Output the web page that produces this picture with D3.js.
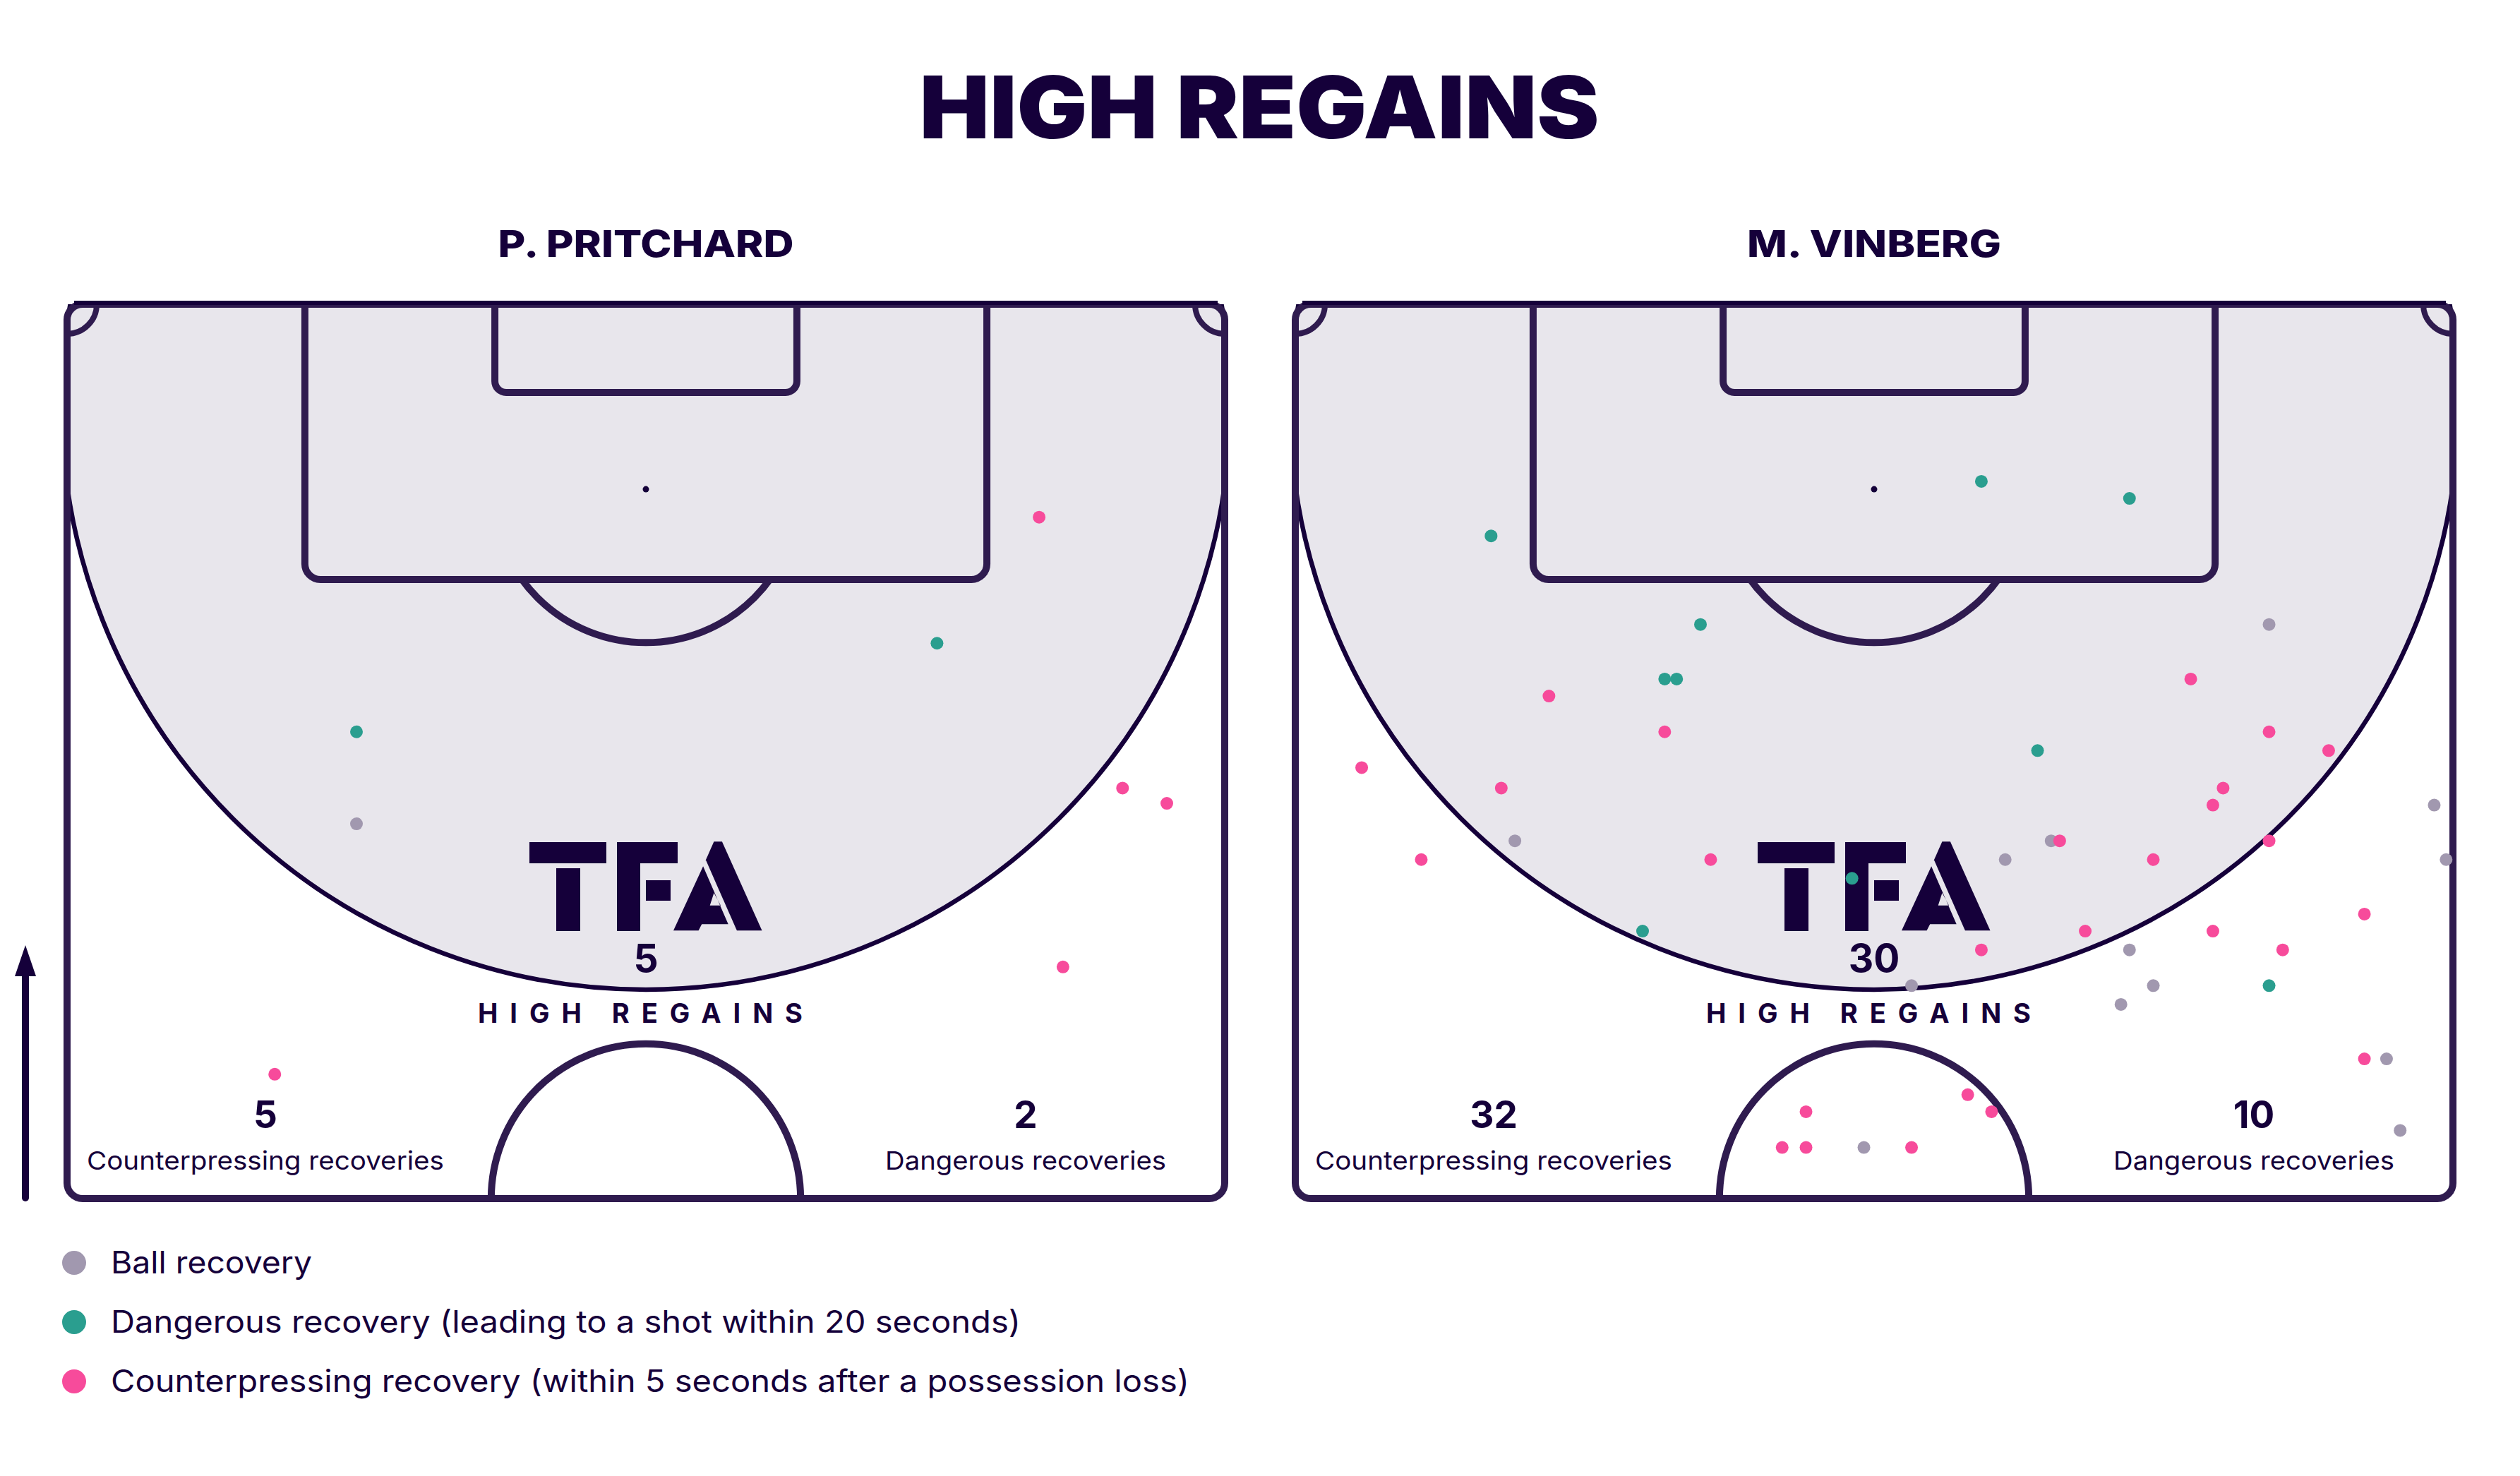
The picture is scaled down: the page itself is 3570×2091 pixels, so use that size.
<!DOCTYPE html>
<html><head><meta charset="utf-8">
<script src="https://cdn.jsdelivr.net/npm/d3@7"></script>
<style>body{margin:0;background:#fff}svg{display:block}</style>
</head><body><svg id="c"></svg>
<script>
// ---------------- DATA ----------------
const titleText = "HIGH REGAINS";
const players = ["P. PRITCHARD", "M. VINBERG"];
const highRegains = [5, 30];
const counterpressingTotals = [5, 32];
const dangerousTotals = [2, 10];
const statLabels = ["Counterpressing recoveries", "Dangerous recoveries"];
const centerLabel = "HIGH REGAINS";
const legendLabels = [
  "Ball recovery",
  "Dangerous recovery (leading to a shot within 20 seconds)",
  "Counterpressing recovery (within 5 seconds after a possession loss)"
];
// positions in metres: [across pitch from left touchline (0-68), distance from opponent goal line (0-52.5)]
const pritchardBall = [[17.0, 30.5]];
const pritchardDangerous = [[51.1, 19.9], [17.0, 25.1]];
const pritchardCounter = [[57.1, 12.5], [62.0, 28.4], [64.6, 29.3], [58.5, 38.9], [12.2, 45.2]];

const vinbergBall = [[57.2, 18.8], [12.9, 31.5], [66.9, 29.4], [67.6, 32.6], [44.4, 31.5], [41.7, 32.6],
  [49.0, 37.9], [36.2, 40.0], [50.4, 40.0], [48.5, 41.1], [64.1, 44.3], [64.9, 48.5], [33.4, 49.5]];
const vinbergDangerous = [[40.3, 10.4], [49.0, 11.4], [11.5, 13.6], [23.8, 18.8], [21.7, 22.0], [22.4, 22.0],
  [43.6, 26.2], [32.7, 33.7], [20.4, 36.8], [57.2, 40.0]];
const vinbergCounter = [[14.9, 23.0], [21.7, 25.1], [3.9, 27.2], [12.1, 28.4], [7.4, 32.6], [24.4, 32.6],
  [52.6, 22.0], [57.2, 25.1], [60.7, 26.2], [54.5, 28.4], [53.9, 29.4], [44.9, 31.5], [57.2, 31.5],
  [50.4, 32.6], [62.8, 35.8], [46.4, 36.8], [53.9, 36.8], [40.3, 37.9], [58.0, 37.9], [62.8, 44.3],
  [39.5, 46.4], [40.9, 47.4], [30.0, 47.4], [28.6, 49.5], [30.0, 49.5], [36.2, 49.5]];

const ballSets = [pritchardBall, vinbergBall];
const dangerousSets = [pritchardDangerous, vinbergDangerous];
const counterSets = [pritchardCounter, vinbergCounter];

// ---------------- STYLE / LAYOUT ----------------
const W = 3570, H = 2091;
const NAVY = "#15003a", LINE = "#2f1b4f", SHADE = "#e8e6ec";
const COLORS = { ball: "#a198af", dangerous: "#2a9e8f", counter: "#f74b9b" };
const FONT = "Inter, 'Noto Sans', sans-serif";
const PITCH_W = 68, PITCH_L = 52.5;
const pitchLeft = [95, 1835], pitchPx = 1640, pitchTop = 431, pitchBottom = 1698;

const svg = d3.select("#c").attr("width", W).attr("height", H).attr("viewBox", `0 0 ${W} ${H}`);
svg.append("rect").attr("width", W).attr("height", H).attr("fill", "#fff");
const defs = svg.append("defs");

svg.append("text").attr("x", 1784).attr("y", 196).attr("text-anchor", "middle")
  .attr("font-family", FONT).attr("font-weight", 900).attr("font-size", 122)
  .attr("fill", NAVY).attr("textLength", 963).attr("lengthAdjust", "spacingAndGlyphs").text(titleText);

const nameWidths = [419, 360];

players.forEach((name, i) => {
  const x0 = pitchLeft[i], x1 = x0 + pitchPx;
  const xs = d3.scaleLinear().domain([0, PITCH_W]).range([x0, x1]);
  const ys = d3.scaleLinear().domain([0, PITCH_L]).range([pitchTop, pitchBottom]);
  const cx = xs(PITCH_W / 2);
  const g = svg.append("g");

  // name
  g.append("text").attr("x", cx).attr("y", 364).attr("text-anchor", "middle")
    .attr("font-family", FONT).attr("font-weight", 800).attr("font-size", 52).attr("fill", NAVY)
    .attr("textLength", nameWidths[i]).attr("lengthAdjust", "spacingAndGlyphs").text(name);

  const clipId = "pc" + i;
  defs.append("clipPath").attr("id", clipId).append("rect")
    .attr("x", x0).attr("y", pitchTop).attr("width", pitchPx).attr("height", pitchBottom - pitchTop);
  const clipBelowBox = "pb" + i;
  defs.append("clipPath").attr("id", clipBelowBox).append("rect")
    .attr("x", x0).attr("y", ys(16.16)).attr("width", pitchPx).attr("height", pitchBottom - ys(16.16));

  const inner = g.append("g").attr("clip-path", `url(#${clipId})`);
  // high-regain zone
  inner.append("circle").attr("cx", cx).attr("cy", ys(5.93)).attr("r", ys(34.3) - ys(0))
    .attr("fill", SHADE).attr("stroke", NAVY).attr("stroke-width", 6.5);

  const lines = inner.append("g").attr("fill", "none").attr("stroke", LINE).attr("stroke-width", 10);
  // penalty box
  lines.append("rect").attr("x", xs(34 - 20.03)).attr("y", pitchTop - 40)
    .attr("width", xs(34 + 20.03) - xs(34 - 20.03)).attr("height", ys(16.16) - pitchTop + 40).attr("rx", 22);
  // six-yard box
  lines.append("rect").attr("x", xs(34 - 8.87)).attr("y", pitchTop - 40)
    .attr("width", xs(34 + 8.87) - xs(34 - 8.87)).attr("height", ys(5.18) - pitchTop + 40).attr("rx", 16);
  // penalty arc
  lines.append("circle").attr("cx", cx).attr("cy", ys(10.86)).attr("r", ys(9.0) - ys(0))
    .attr("clip-path", `url(#${clipBelowBox})`);
  // centre circle
  lines.append("circle").attr("cx", cx).attr("cy", pitchBottom).attr("r", ys(9.08) - ys(0));
  // corner arcs
  [x0, x1].forEach(c => lines.append("circle").attr("cx", c).attr("cy", pitchTop).attr("r", 42).attr("stroke-width", 8));
  // penalty spot
  inner.append("circle").attr("cx", cx).attr("cy", ys(10.86)).attr("r", 4.5).attr("fill", NAVY);

  // outer border
  g.append("rect").attr("x", x0).attr("y", pitchTop).attr("width", pitchPx).attr("height", pitchBottom - pitchTop)
    .attr("rx", 22).attr("fill", "none").attr("stroke", LINE).attr("stroke-width", 10);
  g.append("line").attr("x1", x0 + 10).attr("x2", x1 - 10).attr("y1", pitchTop - 2).attr("y2", pitchTop - 2)
    .attr("stroke", NAVY).attr("stroke-width", 6);

  // TFA logo
  const logo = g.append("g").attr("fill", NAVY).attr("transform", `translate(${cx},0)`);
  logo.append("rect").attr("x", -165).attr("y", 1193).attr("width", 109).attr("height", 30);
  logo.append("rect").attr("x", -127).attr("y", 1230).attr("width", 34).attr("height", 89);
  logo.append("path").attr("d", "M-41,1193H45V1223H-8V1319H-41Z");
  logo.append("rect").attr("x", 0).attr("y", 1247).attr("width", 35).attr("height", 29);
  logo.append("path").attr("fill-rule", "evenodd")
    .attr("d", "M81.1,1227.3L116.7,1309.3H79.2L74.6,1318.3H39Z M96.4,1265L90.7,1282.7H106Z");
  logo.append("path").attr("d", "M84.9,1218.3L96.4,1192.3H107.9L164.5,1318.3H128.9Z");

  // recoveries
  const pts = g.append("g");
  const layers = [[ballSets[i], COLORS.ball], [dangerousSets[i], COLORS.dangerous], [counterSets[i], COLORS.counter]];
  layers.forEach(([data, col]) => {
    pts.selectAll(null).data(data).enter().append("circle")
      .attr("cx", d => xs(d[0])).attr("cy", d => ys(d[1])).attr("r", 9).attr("fill", col);
  });

  // centre totals
  g.append("text").attr("x", cx).attr("y", 1377).attr("text-anchor", "middle")
    .attr("font-family", FONT).attr("font-weight", 700).attr("font-size", 55).attr("fill", NAVY).text(highRegains[i]);
  g.append("text").attr("x", cx - 8).attr("y", 1449).attr("text-anchor", "middle")
    .attr("font-family", FONT).attr("font-weight", 700).attr("font-size", 38).attr("fill", NAVY)
    .attr("textLength", 460).attr("lengthAdjust", "spacing").text(centerLabel);

  // bottom stats
  const statX = [x0 + 281, x0 + 1358];
  const statW = [506, 398];
  [counterpressingTotals[i], dangerousTotals[i]].forEach((v, k) => {
    g.append("text").attr("x", statX[k]).attr("y", 1598).attr("text-anchor", "middle")
      .attr("font-family", FONT).attr("font-weight", 700).attr("font-size", 53).attr("fill", NAVY).text(v);
    g.append("text").attr("x", statX[k]).attr("y", 1657).attr("text-anchor", "middle")
      .attr("font-family", FONT).attr("font-weight", 400).attr("font-size", 36).attr("fill", NAVY)
      .attr("textLength", statW[k]).attr("lengthAdjust", "spacingAndGlyphs").text(statLabels[k]);
  });
});

// direction arrow
svg.append("line").attr("x1", 36).attr("x2", 36).attr("y1", 1697).attr("y2", 1380)
  .attr("stroke", NAVY).attr("stroke-width", 10).attr("stroke-linecap", "round");
svg.append("path").attr("d", "M36,1339L51,1383H21Z").attr("fill", NAVY);

// legend
const legendColors = [COLORS.ball, COLORS.dangerous, COLORS.counter];
const legendW = [285, 1289, 1528];
const lg = svg.append("g");
legendLabels.forEach((t, k) => {
  const y = 1789 + k * 84;
  lg.append("circle").attr("cx", 105).attr("cy", y).attr("r", 17).attr("fill", legendColors[k]);
  lg.append("text").attr("x", 157).attr("y", y + 15).attr("font-family", FONT).attr("font-weight", 400)
    .attr("font-size", 44).attr("fill", NAVY).attr("textLength", legendW[k])
    .attr("lengthAdjust", "spacingAndGlyphs").text(t);
});
</script></body></html>
